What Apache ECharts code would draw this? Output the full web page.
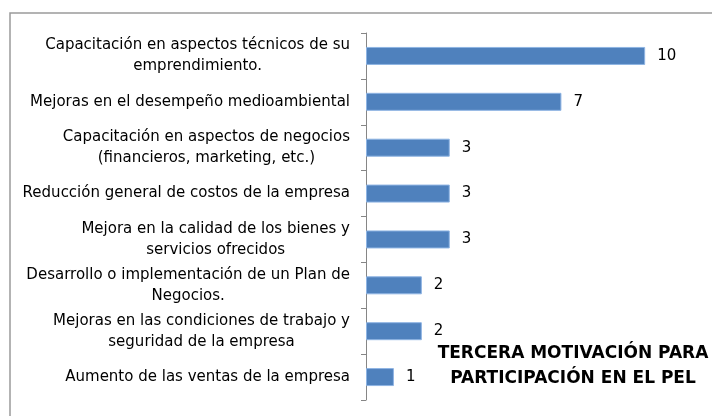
<!DOCTYPE html>
<html>
<head>
<meta charset="utf-8">
<script src="https://cdn.jsdelivr.net/npm/echarts@6/dist/echarts.min.js"></script>
<style>
  html, body { margin: 0; padding: 0; background: #fff; }
  #chart { width: 712px; height: 416px; }
</style>
</head>
<body>
<div id="chart"></div>
<script>
// categorias de arriba hacia abajo
const categorias = [
  "Capacitación en aspectos técnicos de su\nemprendimiento.",
  "Mejoras en el desempeño medioambiental",
  "Capacitación en aspectos de negocios\n(financieros, marketing, etc.)",
  "Reducción general de costos de la empresa",
  "Mejora en la calidad de los bienes y\nservicios ofrecidos",
  "Desarrollo o implementación de un Plan de\nNegocios.",
  "Mejoras en las condiciones de trabajo y\nseguridad de la empresa",
  "Aumento de las ventas de la empresa",
];
const valores = [10, 7, 3, 3, 3, 2, 2, 1];
const titulo = "TERCERA MOTIVACIÓN PARA\nPARTICIPACIÓN EN EL PEL";

const chart = echarts.init(document.getElementById("chart"), null, { renderer: "canvas" });

const option = {
  backgroundColor: "#ffffff",
  animation: false,
  title: {
    text: titulo,
    left: 568,
    top: 336,
    textAlign: "center",
    textStyle: {
      fontFamily: "DejaVu Sans",
      fontWeight: "bold",
      fontSize: 17,
      lineHeight: 25,
      color: "#000000",
      align: "center",
    },
  },
  graphic: [
    {
      type: "rect",
      shape: { x: 10, y: 13, width: 720, height: 420 },
      style: { fill: "none", stroke: "#9a9a9a", lineWidth: 1.5 },
      silent: true,
    },
  ],
  grid: {
    left: 366,
    top: 33,
    width: 335,
    height: 367,
    containLabel: false,
  },
  xAxis: {
    type: "value",
    min: 0,
    max: 12,
    show: false,
  },
  yAxis: {
    type: "category",
    inverse: true,
    data: categorias,
    axisLine: { lineStyle: { color: "#868686", width: 1 } },
    axisTick: { show: true, length: 5, lineStyle: { color: "#868686" } },
    axisLabel: {
      margin: 16,
      interval: 0,
      align: "right",
      formatter: function (v) { return "{c|" + v.split("\n").join("}\n{c|") + "}"; },
      rich: {
        c: { fontFamily: "DejaVu Sans", fontSize: 15, lineHeight: 21, color: "#000", align: "center" },
      },
    },
  },
  series: [
    {
      type: "bar",
      data: valores,
      barWidth: 18,
      itemStyle: {
        color: "#4f81bd",
        borderColor: "#8eb4e3",
        borderWidth: 1,
      },
      label: {
        show: true,
        position: "right",
        distance: 12,
        color: "#000000",
        fontFamily: "DejaVu Sans",
        fontSize: 15,
      },
    },
  ],
};

chart.setOption(option);
</script>
</body>
</html>
